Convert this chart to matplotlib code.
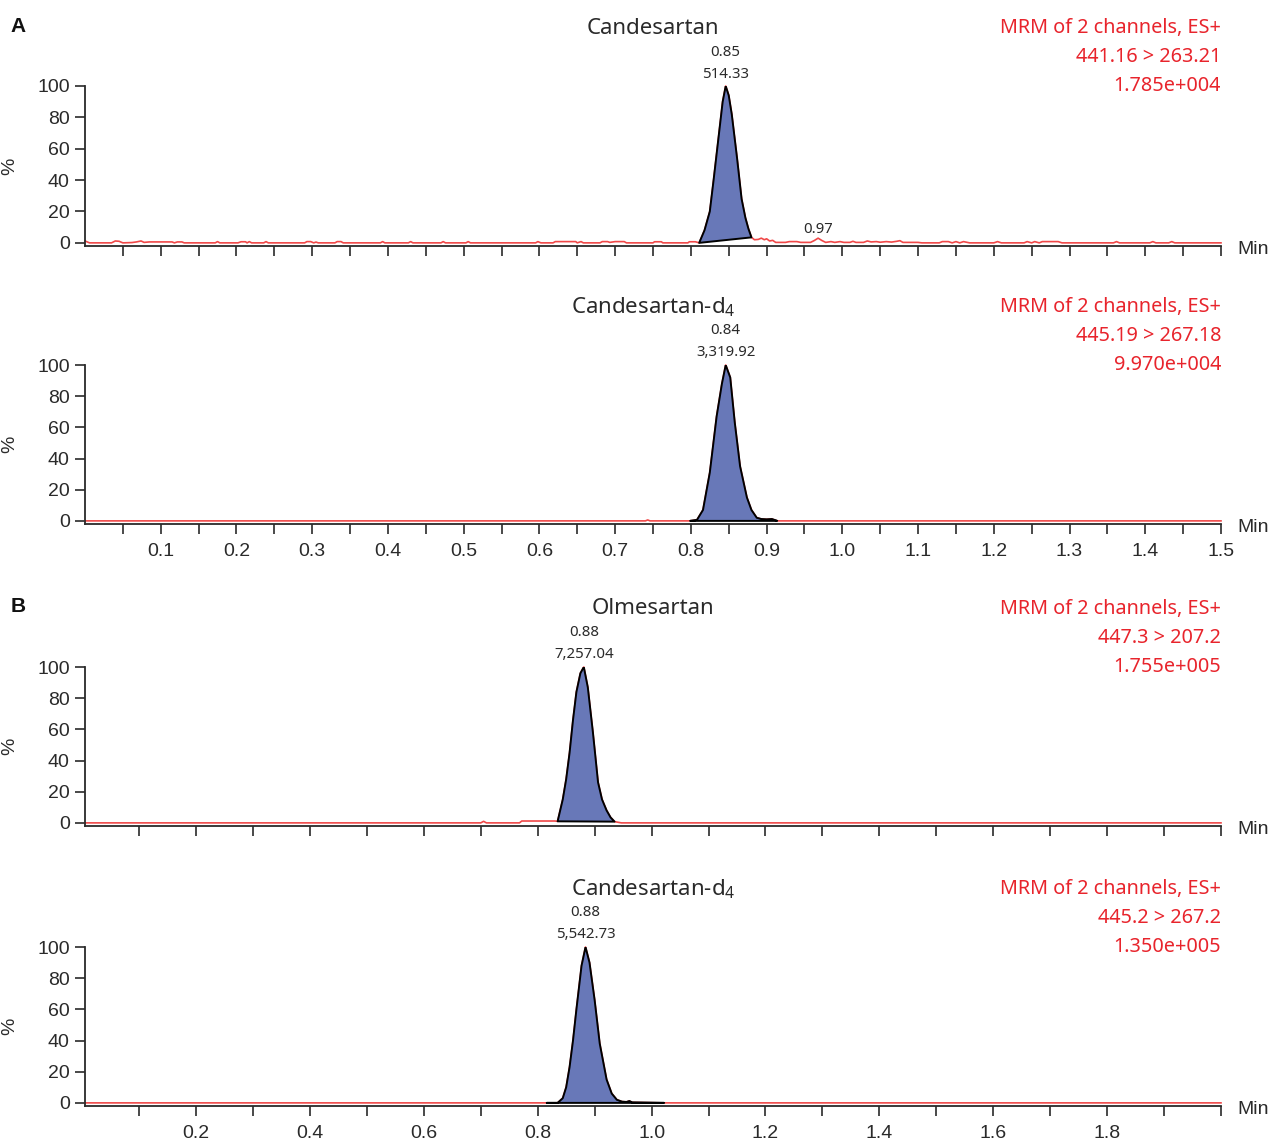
import matplotlib
matplotlib.use("Agg")
import matplotlib.pyplot as plt
from matplotlib.ticker import FixedLocator, FixedFormatter

plt.rcParams['font.family'] = ['Liberation Sans', 'DejaVu Sans']
plt.rcParams['mathtext.fontset'] = 'custom'
plt.rcParams['mathtext.rm'] = 'Noto Sans'

# ---------------- data ----------------
# Panel A, top: Candesartan
a1_pre_t = [0.000, 0.006, 0.035, 0.040, 0.045, 0.050, 0.062, 0.068, 0.074, 0.078, 0.085, 0.115,
            0.118, 0.122, 0.128, 0.131, 0.172, 0.175, 0.178, 0.202, 0.206, 0.212, 0.214, 0.217,
            0.220, 0.236, 0.239, 0.242, 0.290, 0.293, 0.298, 0.302, 0.305, 0.308, 0.330, 0.333,
            0.338, 0.341, 0.390, 0.393, 0.396, 0.427, 0.430, 0.433, 0.470, 0.473, 0.476, 0.503,
            0.506, 0.509, 0.595, 0.598, 0.602, 0.618, 0.621, 0.648, 0.650, 0.655, 0.658, 0.680,
            0.683, 0.690, 0.693, 0.700, 0.712, 0.715, 0.750, 0.752, 0.761, 0.763, 0.796, 0.798,
            0.806]
a1_pre_y = [1.2, 0.0, 0.0, 1.2, 1.0, 0.0, 0.2, 0.6, 1.2, 0.3, 0.6, 0.6,
            0.0, 0.6, 0.6, 0.0, 0.0, 0.8, 0.0, 0.0, 0.7, 0.7, 0.0, 0.8,
            0.0, 0.0, 0.8, 0.0, 0.0, 0.8, 0.8, 0.0, 0.5, 0.0, 0.0, 0.8,
            0.8, 0.0, 0.0, 0.8, 0.0, 0.0, 0.8, 0.0, 0.0, 0.8, 0.0, 0.0,
            0.8, 0.0, 0.0, 0.8, 0.0, 0.0, 0.8, 0.8, 0.0, 0.8, 0.0, 0.0,
            0.8, 0.8, 0.3, 0.8, 0.8, 0.0, 0.0, 0.7, 0.7, 0.0, 0.0, 0.7,
            0.7]
a1_peak_t = [0.811, 0.818, 0.825, 0.830, 0.836, 0.842, 0.846, 0.850, 0.854, 0.861, 0.867, 0.872, 0.876, 0.880]
a1_peak_y = [0.0, 8.0, 20.0, 40.0, 65.0, 90.0, 100.0, 94.0, 82.0, 54.0, 28.0, 16.0, 9.0, 3.5]
a1_post_t = [0.884, 0.889, 0.893, 0.897, 0.900, 0.904, 0.908, 0.912, 0.925, 0.930, 0.940, 0.945,
             0.958, 0.963, 0.968, 0.973, 0.978, 0.985, 0.990, 0.997, 1.002, 1.010, 1.014, 1.018,
             1.028, 1.033, 1.038, 1.045, 1.050, 1.058, 1.065, 1.072, 1.076, 1.080, 1.100, 1.105,
             1.110, 1.128, 1.132, 1.140, 1.145, 1.150, 1.155, 1.160, 1.168, 1.172, 1.176, 1.200,
             1.205, 1.210, 1.240, 1.244, 1.250, 1.254, 1.260, 1.264, 1.270, 1.285, 1.290, 1.358,
             1.362, 1.366, 1.406, 1.410, 1.414, 1.431, 1.435, 1.439, 1.500]
a1_post_y = [2.0, 2.2, 3.0, 2.0, 2.6, 1.2, 1.6, 0.3, 0.3, 0.8, 0.8, 0.3,
             0.3, 1.5, 3.0, 1.5, 0.3, 0.8, 0.3, 0.8, 0.3, 0.3, 1.0, 0.3,
             0.3, 1.2, 0.6, 0.8, 0.4, 0.8, 0.5, 1.0, 1.4, 0.3, 0.3, 0.0,
             0.0, 0.0, 0.8, 0.8, 0.0, 0.8, 0.0, 0.8, 0.0, 0.0, 0.0, 0.0,
             0.8, 0.0, 0.0, 0.8, 0.0, 0.8, 0.0, 0.8, 0.8, 0.8, 0.0, 0.0,
             0.8, 0.0, 0.0, 0.8, 0.0, 0.0, 0.8, 0.0, 0.0]

# Panel A, bottom: Candesartan-d4
a2_pre_t = [0.000, 0.740, 0.743, 0.746, 0.799]
a2_pre_y = [0.0, 0.0, 0.6, 0.0, 0.0]
a2_peak_t = [0.799, 0.808, 0.816, 0.825, 0.834, 0.841, 0.846, 0.852, 0.858, 0.865, 0.874, 0.880,
             0.887, 0.893, 0.900, 0.907, 0.914]
a2_peak_y = [0.0, 0.6, 7.0, 31.0, 67.0, 88.0, 100.0, 92.0, 63.0, 35.0, 15.0, 7.0,
             2.0, 1.2, 1.0, 1.2, 0.0]
a2_post_t = [0.914, 1.500]
a2_post_y = [0.0, 0.0]

# Panel B, top: Olmesartan
b1_pre_t = [0.005, 0.700, 0.705, 0.710, 0.768, 0.772, 0.830, 0.835]
b1_pre_y = [0.0, 0.0, 1.0, 0.0, 0.0, 1.2, 1.2, 1.0]
b1_peak_t = [0.835, 0.844, 0.850, 0.856, 0.862, 0.868, 0.875, 0.881, 0.888, 0.897, 0.906, 0.913,
             0.921, 0.928, 0.935]
b1_peak_y = [1.0, 15.0, 28.0, 45.0, 66.0, 84.0, 96.0, 100.0, 87.0, 58.0, 26.0, 15.0,
             8.0, 3.5, 0.8]
b1_post_t = [0.935, 0.947, 2.000]
b1_post_y = [0.8, 0.0, 0.0]

# Panel B, bottom: Candesartan-d4
b2_pre_t = [0.005, 0.816]
b2_pre_y = [0.0, 0.0]
b2_peak_t = [0.816, 0.835, 0.844, 0.850, 0.856, 0.862, 0.868, 0.877, 0.884, 0.891, 0.900, 0.909,
             0.921, 0.930, 0.939, 0.948, 0.956, 0.961, 0.966, 1.022]
b2_peak_y = [0.0, 0.0, 3.0, 10.0, 23.0, 40.0, 60.0, 88.0, 100.0, 90.0, 66.0, 38.0,
             15.0, 6.0, 2.0, 0.8, 0.6, 1.2, 0.3, 0.0]
b2_post_t = [1.022, 2.000]
b2_post_y = [0.0, 0.0]

titles = ["Candesartan", r"Candesartan-d$\mathregular{_4}$", "Olmesartan", r"Candesartan-d$\mathregular{_4}$"]
channels = ["441.16 > 263.21", "445.19 > 267.18", "447.3 > 207.2", "445.2 > 267.2"]
intensities = ["1.785e+004", "9.970e+004", "1.755e+005", "1.350e+005"]
peak_rt = ["0.85", "0.84", "0.88", "0.88"]
peak_area = ["514.33", "3,319.92", "7,257.04", "5,542.73"]

a_ticks = [round(0.05 * i, 2) for i in range(1, 31)]
a_labels = ["0.1", "0.2", "0.3", "0.4", "0.5", "0.6", "0.7", "0.8", "0.9", "1.0", "1.1", "1.2", "1.3", "1.4", "1.5"]
b_ticks = [round(0.1 * i, 1) for i in range(1, 21)]
b_labels = ["0.2", "0.4", "0.6", "0.8", "1.0", "1.2", "1.4", "1.6", "1.8"]

# ---------------- styling ----------------
W, H = 1272, 1140
DPI = 100
RED_LINE = "#f04848"
RED_TEXT = "#e8242c"
FILL = "#6878b8"
AX_COL = "#2a2a2a"
TXT = "#2a2a2a"
NOTO = ['Noto Sans', 'DejaVu Sans']

fig = plt.figure(figsize=(W / DPI, H / DPI), dpi=DPI)

def make_ax(top_px, bottom_px):
    return fig.add_axes([85 / W, 1 - bottom_px / H, (1221 - 85) / W, (bottom_px - top_px) / H])

panels = [
    (make_ax(86, 246), a1_pre_t, a1_pre_y, a1_peak_t, a1_peak_y, a1_post_t, a1_post_y, (0, 1.5)),
    (make_ax(365, 524), a2_pre_t, a2_pre_y, a2_peak_t, a2_peak_y, a2_post_t, a2_post_y, (0, 1.5)),
    (make_ax(667, 826), b1_pre_t, b1_pre_y, b1_peak_t, b1_peak_y, b1_post_t, b1_post_y, (0.005, 2.0)),
    (make_ax(947, 1106), b2_pre_t, b2_pre_y, b2_peak_t, b2_peak_y, b2_post_t, b2_post_y, (0.005, 2.0)),
]

for i, (ax, pt, py, kt, ky, qt, qy, xl) in enumerate(panels):
    ax.plot(pt + kt + qt, py + ky + qy, color=RED_LINE, lw=1.2, zorder=2, clip_on=False)
    ax.fill(kt, ky, facecolor=FILL, edgecolor="black", lw=1.4, zorder=3, joinstyle="round")
    ax.set_xlim(*xl)
    ax.set_ylim(-2, 100)
    for s in ("top", "right"):
        ax.spines[s].set_visible(False)
    for s in ("left", "bottom"):
        ax.spines[s].set_color(AX_COL)
        ax.spines[s].set_linewidth(1.3)
    ax.set_yticks([0, 20, 40, 60, 80, 100])
    ax.tick_params(axis="y", direction="out", length=7, width=1.2, color=AX_COL,
                   labelsize=14, pad=4, labelcolor=TXT)
    ax.tick_params(axis="x", direction="out", length=7, width=1.2, color=AX_COL,
                   labelsize=14, pad=6.5, labelcolor=TXT)
    if i < 2:
        ax.xaxis.set_major_locator(FixedLocator(a_ticks))
        labs = [a_labels[(k - 1) // 2] if k % 2 == 0 else "" for k in range(1, 31)]
    else:
        ax.xaxis.set_major_locator(FixedLocator(b_ticks))
        labs = [b_labels[k // 2 - 1] if (k % 2 == 0 and k < 20) else "" for k in range(1, 21)]
    if i in (1, 3):
        ax.xaxis.set_major_formatter(FixedFormatter(labs))
    else:
        ax.set_xticklabels([])

    ax.set_ylabel("%", fontsize=14, color=TXT)
    ax.yaxis.set_label_coords(-0.059, 0.5)

    # title and channel info
    ax.annotate(titles[i], xy=(0.5, 1.0), xycoords="axes fraction", xytext=(0, 58),
                textcoords="offset pixels", ha="center", va="center", fontsize=16,
                color=TXT, family=NOTO)
    for j, txt in enumerate(["MRM of 2 channels, ES+", channels[i], intensities[i]]):
        ax.annotate(txt, xy=(1.0, 1.0), xycoords="axes fraction", xytext=(0, 58 - 29 * j),
                    textcoords="offset pixels", ha="right", va="center", fontsize=14.3,
                    color=RED_TEXT, family=NOTO)
    # peak labels
    kmax = ky.index(max(ky))
    ax.annotate(peak_rt[i], xy=(kt[kmax], 100), xytext=(0, 34), textcoords="offset pixels",
                ha="center", va="center", fontsize=10.8, color=TXT, family=NOTO)
    ax.annotate(peak_area[i], xy=(kt[kmax], 100), xytext=(0, 12), textcoords="offset pixels",
                ha="center", va="center", fontsize=10.8, color=TXT, family=NOTO)
    ax.annotate("Min", xy=(1.0, 0.0), xycoords="axes fraction", xytext=(16, -3),
                textcoords="offset pixels", ha="left", va="center", fontsize=14, color=TXT)

# small secondary peak label in panel A top
ax0 = panels[0][0]
ax0.annotate("0.97", xy=(0.968, 3.0), xytext=(0, 9), textcoords="offset pixels",
             ha="center", va="center", fontsize=10.8, color=TXT, family=NOTO)

fig.text(18 / W, 1 - 26 / H, "A", fontsize=15, fontweight="bold", ha="center", va="center", color="#111")
fig.text(18 / W, 1 - 607 / H, "B", fontsize=15, fontweight="bold", ha="center", va="center", color="#111")

fig.savefig("out.png", dpi=DPI)
